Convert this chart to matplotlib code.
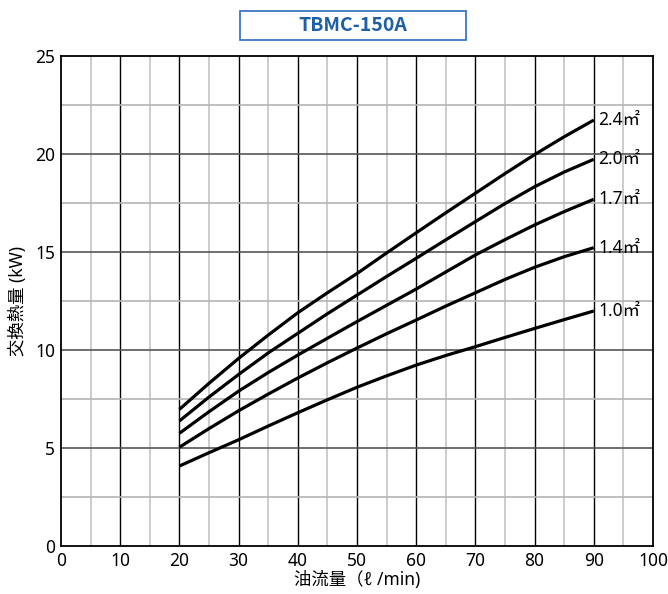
from matplotlib import pyplot as plt
from matplotlib.patches import Rectangle

plt.rcParams['font.family'] = ['Noto Sans', 'Noto Sans CJK JP', 'DejaVu Sans']

# Data (oil flow -> heat exchange)
flow = [20, 25, 30, 35, 40, 45, 50, 55, 60, 65, 70, 75, 80, 85, 90]
area_labels = ["2.4㎡", "2.0㎡", "1.7㎡", "1.4㎡", "1.0㎡"]
heat_24 = [6.97, 8.3, 9.57, 10.76, 11.9, 12.92, 13.9, 14.95, 15.98, 17.0, 18.0, 19.0, 19.97, 20.88, 21.73]
heat_20 = [6.38, 7.6, 8.75, 9.85, 10.85, 11.85, 12.8, 13.75, 14.68, 15.62, 16.55, 17.47, 18.33, 19.08, 19.73]
heat_17 = [5.75, 6.85, 7.9, 8.85, 9.74, 10.6, 11.45, 12.28, 13.11, 13.98, 14.85, 15.63, 16.38, 17.06, 17.69]
heat_14 = [5.04, 5.99, 6.9, 7.75, 8.57, 9.35, 10.1, 10.83, 11.53, 12.24, 12.92, 13.6, 14.22, 14.76, 15.22]
heat_10 = [4.08, 4.76, 5.42, 6.12, 6.8, 7.46, 8.1, 8.68, 9.23, 9.72, 10.17, 10.64, 11.1, 11.55, 11.99]
series = [heat_24, heat_20, heat_17, heat_14, heat_10]

title = "TBMC-150A"
xlabel = "油流量（ℓ /min)"
ylabel = "交換熱量 (kW)"

fig = plt.figure(figsize=(6.68, 5.94), dpi=100)
ax = fig.add_axes([0.0913, 0.0808, 0.8862, 0.8249])

ax.set_xlim(0, 100)
ax.set_ylim(0, 25)
ax.set_xticks(range(0, 101, 10))
ax.set_yticks(range(0, 26, 5))

# Grid lines
for x in range(5, 100, 10):
	ax.axvline(x, color="#c8c8c8", lw=1.3, zorder=1)
for x in range(10, 100, 10):
	ax.axvline(x, color="black", lw=1.0, zorder=1)
for y in [2.5, 7.5, 12.5, 17.5, 22.5]:
	ax.axhline(y, color="#b4b4b4", lw=1.2, zorder=1)
for y in range(5, 25, 5):
	ax.axhline(y, color="#555555", lw=1.2, zorder=1)

# Curves
for values, label in zip(series, area_labels):
	ax.plot(flow, values, color="black", lw=2.3, solid_capstyle="butt",
		solid_joinstyle="round", zorder=3)
	ax.text(flow[-1] + 0.8, values[-1], label, fontsize=12.5, ha="left", va="center")

for spine in ax.spines.values():
	spine.set_linewidth(1.3)
	spine.set_color("black")
ax.tick_params(length=0, labelsize=12.5, pad=4)
ax.set_xlabel(xlabel, fontsize=12.5, labelpad=1)
ax.set_ylabel(ylabel, fontsize=12.5, labelpad=6)

# Title box
fig.patches.append(Rectangle((0.359, 0.9327), 0.339, 0.0488, transform=fig.transFigure,
	facecolor="white", edgecolor="#3a78c2", lw=1.3))
fig.text(0.5285, 0.957, title, color="#1f5fa8", fontsize=14, fontweight="bold",
	family=["Noto Sans CJK JP"], ha="center", va="center")

fig.savefig("out.png", dpi=100)
